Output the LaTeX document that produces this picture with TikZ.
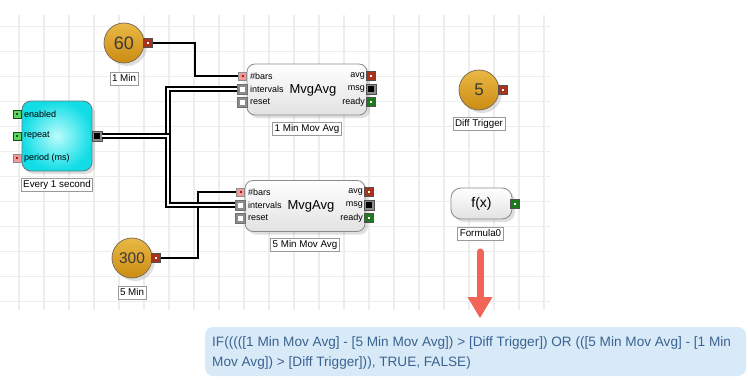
\documentclass[tikz,border=0pt]{standalone}
\usepackage{fontspec}
\setmainfont{Liberation Sans}
\usetikzlibrary{shadows}
\definecolor{gridc}{HTML}{EDEDED}
\definecolor{knobtop}{HTML}{E9B845}
\definecolor{knobbot}{HTML}{CC8C12}
\definecolor{knobborder}{HTML}{7E6E58}
\definecolor{knobtext}{HTML}{3A3A3A}
\definecolor{boxborder}{HTML}{8A8A8A}
\definecolor{lblborder}{HTML}{9A9A9A}
\definecolor{outred}{HTML}{A8321C}
\definecolor{pinkp}{HTML}{F29A9A}
\definecolor{pinkdot}{HTML}{9B1C1C}
\definecolor{greenp}{HTML}{5DD65D}
\definecolor{greendot}{HTML}{1C4A1C}
\definecolor{grayp}{HTML}{8C8C8C}
\definecolor{readyp}{HTML}{1F7A1F}
\definecolor{portdark}{HTML}{505050}
\definecolor{cyanin}{HTML}{BAFCFC}
\definecolor{cyanout}{HTML}{12DDE6}
\definecolor{cyanborder}{HTML}{5E7E80}
\definecolor{arrowc}{HTML}{F26457}
\definecolor{fboxc}{HTML}{D8EAF7}
\definecolor{ftextc}{HTML}{3A6290}
\definecolor{mvgbot}{HTML}{E2E2E2}
\begin{document}
\begin{tikzpicture}[x=1pt,y=-1pt,
  gridline/.style={draw=gridc, line width=1.3pt},
  lbl/.style={draw=lblborder, fill=white, line width=0.8pt, inner xsep=2pt, inner ysep=1.5pt,
    text height=7.3pt, text depth=2pt, font=\fontsize{9.8}{11}\selectfont},
  knob/.style={circle, minimum size=40pt, inner sep=0pt, draw=knobborder, line width=0.8pt,
    top color=knobtop, bottom color=knobbot, text=knobtext,
    drop shadow={opacity=0.25, shadow xshift=3pt, shadow yshift=-3pt}},
  mvg/.style={rectangle, rounded corners=8pt, minimum width=120pt, minimum height=51pt,
    draw=boxborder, line width=0.8pt, top color=white, bottom color=mvgbot,
    drop shadow={opacity=0.25, shadow xshift=3pt, shadow yshift=-3pt}},
  timerbox/.style={rectangle, rounded corners=9pt, minimum width=70pt, minimum height=70pt,
    draw=cyanborder, line width=0.8pt, inner color=cyanin, outer color=cyanout,
    drop shadow={opacity=0.25, shadow xshift=3pt, shadow yshift=-3pt}},
  fxbox/.style={rectangle, rounded corners=10pt, minimum width=61pt, minimum height=31pt,
    draw=boxborder, line width=0.8pt, top color=white, bottom color=mvgbot,
    drop shadow={opacity=0.25, shadow xshift=3pt, shadow yshift=-3pt},
    font=\fontsize{14}{16}\selectfont},
  portsq/.style n args={4}{rectangle, inner sep=0pt, line width=0.8pt, fill=#1, draw=#2,
    path picture={\fill[#3] (path picture bounding box.center) ++(-#4/2,-#4/2) rectangle ++(#4,#4);}},
  redport/.style={portsq={outred}{portdark}{white}{2.4pt}, minimum size=8.5pt},
  pinkport/.style={portsq={pinkp}{grayp}{pinkdot}{2pt}, minimum size=8pt},
  greenport/.style={portsq={greenp}{greendot}{greendot}{2pt}, minimum size=8pt},
  grayport/.style={portsq={grayp}{grayp!80!black}{white}{5pt}, minimum size=10pt},
  msgport/.style={portsq={grayp}{portdark}{black}{5.5pt}, minimum size=10pt},
  readyport/.style={portsq={readyp}{portdark}{white}{2.4pt}, minimum size=8.5pt},
  plbl/.style={inner sep=0pt, font=\fontsize{9}{10}\selectfont},
  wire/.style={draw=black, line width=1.8pt},
  bus/.style={draw=black, line width=1.8pt, double=white, double distance=2.2pt},
]
\useasboundingbox (0,0) rectangle (748,391);
\fill[white] (0,0) rectangle (748,391);
% grid
\foreach \gx in {19,44,...,544} {\draw[gridline] (\gx,15) -- (\gx,310);}
\foreach \gy in {26.7,51.7,...,302} {\draw[gridline] (0,\gy) -- (550,\gy);}

% knob 60
\node[knob, font=\fontsize{18}{18}\selectfont] (k60) at (124,43) {60};
\node[redport] (k60o) at (148,43) {};
\node[lbl] (k60l) at (124,79) {1 Min};

% timer
\node[timerbox] (tmr) at (57,136) {};
\node[greenport] (te) at (17,114) {};
\node[greenport] (tr) at (17,136) {};
\node[pinkport] (tp) at (17,158) {};
\node[plbl, anchor=west] (tel) at (24,114) {enabled};
\node[plbl, anchor=west] (trl) at (24,136) {repeat};
\node[plbl, anchor=west] (tpl) at (24,158) {period (ms)};
\node[msgport] (tout) at (97,136) {};
\node[lbl] (tmrl) at (57,185) {Every 1 second};

% MvgAvg 1
\node[mvg] (m1) at (307,89.5) {};
\node[font=\fontsize{13}{15}\selectfont, inner sep=0pt] (m1t) at (313,90) {MvgAvg};
\node[pinkport] (m1b) at (242.5,76) {};
\node[grayport] (m1i) at (242,89) {};
\node[grayport] (m1r) at (242,102) {};
\node[redport] (m1a) at (371,76) {};
\node[msgport] (m1m) at (371,89) {};
\node[readyport] (m1y) at (371,102) {};
\node[plbl, anchor=west] (m1bl) at (250,76) {\#bars};
\node[plbl, anchor=west] (m1il) at (250,89) {intervals};
\node[plbl, anchor=west] (m1rl) at (250,102) {reset};
\node[plbl, anchor=east] (m1al) at (365,76) {avg};
\node[plbl, anchor=east] (m1ml) at (365,89) {msg};
\node[plbl, anchor=east] (m1yl) at (365,102) {ready};
\node[lbl] (m1l) at (307,129) {1 Min Mov Avg};

% MvgAvg 2
\node[mvg] (m2) at (305,206) {};
\node[font=\fontsize{13}{15}\selectfont, inner sep=0pt] (m2t) at (311,206) {MvgAvg};
\node[pinkport] (m2b) at (240.5,192) {};
\node[grayport] (m2i) at (240,205) {};
\node[grayport] (m2r) at (240,218) {};
\node[redport] (m2a) at (369,192) {};
\node[msgport] (m2m) at (369,205) {};
\node[readyport] (m2y) at (369,218) {};
\node[plbl, anchor=west] (m2bl) at (248,192) {\#bars};
\node[plbl, anchor=west] (m2il) at (248,205) {intervals};
\node[plbl, anchor=west] (m2rl) at (248,218) {reset};
\node[plbl, anchor=east] (m2al) at (363,192) {avg};
\node[plbl, anchor=east] (m2ml) at (363,205) {msg};
\node[plbl, anchor=east] (m2yl) at (363,218) {ready};
\node[lbl] (m2l) at (305,245) {5 Min Mov Avg};

% knob 300
\node[knob, font=\fontsize{15.5}{16}\selectfont] (k300) at (132,258) {300};
\node[redport] (k300o) at (156,258) {};
\node[lbl] (k300l) at (132,293) {5 Min};

% knob 5
\node[knob, font=\fontsize{17}{17}\selectfont] (k5) at (479,90) {5};
\node[redport] (k5o) at (503,90) {};
\node[lbl] (k5l) at (479,124) {Diff Trigger};

% formula
\node[fxbox] (fx) at (481.5,203.5) {f(x)};
\node[readyport] (fxo) at (515,204) {};
\node[lbl] (fxl) at (480.5,234) {Formula0};

% wires
\draw[wire] (k60o.east) -- (195,43) |- (m1b.west);
\draw[wire] (k300o.east) -- (198,258) |- (m2b.west);
\draw[bus] (tout.east) -- (168,136) |- (m1i.west);
\draw[bus] (tout.east) -- (168,136) |- (m2i.west);

% arrow
\coordinate (as) at (480,252);
\coordinate (ab) at (480,297);
\coordinate (ah) at (480,318);
\draw[arrowc, line width=7pt, line cap=round] (as) -- (ab);
\fill[arrowc] ([xshift=-12.5pt]ab) -- ([xshift=12.5pt]ab) -- (ah) -- cycle;

% formula text
\node[rectangle, rounded corners=8pt, fill=fboxc, minimum width=541pt, minimum height=49pt] (fb) at (475.5,351.5) {};
\node[anchor=west, align=left, inner sep=0pt, text=ftextc, font=\fontsize{13.6}{20}\selectfont] (ft) at (212,352.5)
  {IF(((([1 Min Mov Avg] - [5 Min Mov Avg]) > [Diff Trigger]) OR (([5 Min Mov Avg] - [1 Min\\Mov Avg]) > [Diff Trigger])), TRUE, FALSE)};
\end{tikzpicture}
\end{document}
